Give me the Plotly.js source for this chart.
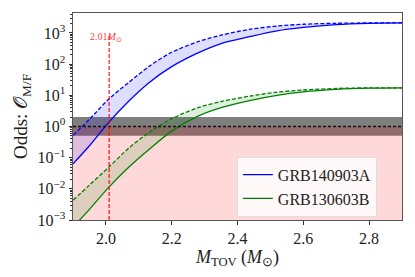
<!DOCTYPE html>
<html>
<head>
<meta charset="utf-8">
<script src="https://cdn.plot.ly/plotly-3.0.1.min.js"></script>
<style>html,body{margin:0;padding:0;background:#fff;}#chart{width:415px;height:277px;}</style>
</head>
<body>
<div id="chart"></div>
<script>
// M_TOV grid (solar masses)
const mtov = [1.90, 1.95, 2.01, 2.07, 2.13, 2.20, 2.28, 2.35, 2.44, 2.52, 2.60, 2.70, 2.80, 2.90];
// GRB140903A odds (upper / dashed and lower / solid)
const grbA_upper = [0.52, 1.7, 7.8, 26, 83, 240, 525, 851, 1318, 1660, 1905, 2042, 2090, 2090];
const grbA_lower = [0.063, 0.24, 1.41, 6.6, 25, 83, 229, 457, 776, 1175, 1510, 1860, 2040, 2090];
// GRB130603B odds (upper / dashed and lower / solid)
const grbB_upper = [0.0043, 0.0132, 0.051, 0.204, 0.63, 1.78, 4.0, 6.3, 9.5, 12.6, 14.8, 16.6, 17.3, 17.4];
const grbB_lower = [0.00059, 0.0022, 0.0115, 0.05, 0.18, 0.71, 2.14, 4.0, 6.9, 10.0, 12.9, 15.5, 17.0, 17.4];
const names = ["GRB140903A", "GRB130603B"];
const yTickVals = [1e-3, 1e-2, 1e-1, 1, 10, 100, 1000];
const yTickText = ["10<sup>−3</sup>", "10<sup>−2</sup>", "10<sup>−1</sup>", "10<sup>0</sup>", "10<sup>1</sup>", "10<sup>2</sup>", "10<sup>3</sup>"];
const xTickVals = [2.0, 2.2, 2.4, 2.6, 2.8];
const xTickText = ["2.0", "2.2", "2.4", "2.6", "2.8"];
const mRef = 2.01;
const oddsBand = [0.5, 2];
const oddsUnity = 1;
const oddsFloor = 1e-3;

const blue = "#0000ff", green = "#008000";
const font = "Liberation Serif, Times New Roman, serif";

function group(upper, lower, color, fillc, name) {
  return [
    {x: mtov, y: upper, mode: "lines", line: {color: color, width: 1.3, dash: "4px,2px", shape: "spline", smoothing: 0.8}, showlegend: false, hoverinfo: "skip"},
    {x: mtov, y: lower, mode: "lines", line: {color: color, width: 0, shape: "spline", smoothing: 0.8}, fill: "tonexty", fillcolor: fillc, showlegend: false, hoverinfo: "skip"},
    {x: mtov, y: lower, mode: "lines", line: {color: color, width: 1.3, shape: "spline", smoothing: 0.8}, name: name}
  ];
}

const data = [].concat(
  group(grbA_upper, grbA_lower, blue, "rgba(0,0,255,0.13)", names[0]),
  group(grbB_upper, grbB_lower, green, "rgba(0,128,0,0.13)", names[1])
);

const layout = {
  width: 415, height: 277,
  margin: {l: 73, r: 13, t: 13, b: 56.5},
  paper_bgcolor: "#fff", plot_bgcolor: "#fff",
  font: {family: font, size: 16, color: "#222"},
  showlegend: true,
  legend: {x: 0.498, y: 0.306, xanchor: "left", yanchor: "top", traceorder: "normal", bgcolor: "rgba(255,255,255,0.8)", bordercolor: "#dddddd", borderwidth: 1, font: {family: font, size: 16, color: "#222"}},
  xaxis: {
    range: [1.9, 2.9], tickvals: xTickVals, ticktext: xTickText,
    ticks: "outside", ticklen: 3.5, tickcolor: "#333", showgrid: false, zeroline: false,
    showline: true, linecolor: "#555", linewidth: 1, mirror: true,
    title: {text: "<i>M</i><sub>TOV</sub> (<i>M</i><sub>⊙</sub>)", font: {family: font, size: 18}, standoff: 2}
  },
  yaxis: {
    type: "log", range: [-3, 3.64], tickvals: yTickVals, ticktext: yTickText,
    ticks: "outside", ticklen: 3.5, tickcolor: "#333", showgrid: false, zeroline: false,
    showline: true, linecolor: "#555", linewidth: 1, mirror: true,
    minor: {ticks: "outside", ticklen: 2, tickcolor: "#333", dtick: "D1", showgrid: false},
    title: {text: "Odds: 𝒪<sub>M/F</sub>", font: {family: font, size: 19}, standoff: 4}
  },
  shapes: [
    {type: "rect", xref: "paper", x0: 0, x1: 1, yref: "y", y0: oddsBand[0], y1: oddsBand[1], fillcolor: "rgba(0,0,0,0.5)", line: {width: 0}, layer: "below"},
    {type: "rect", xref: "paper", x0: 0, x1: 1, yref: "y", y0: oddsFloor, y1: oddsUnity, fillcolor: "rgba(255,0,0,0.15)", line: {width: 0}, layer: "below"},
    {type: "line", xref: "paper", x0: 0, x1: 1, yref: "y", y0: oddsUnity, y1: oddsUnity, line: {color: "#111", width: 1.3, dash: "3px,2px"}},
    {type: "line", xref: "x", x0: mRef, x1: mRef, yref: "paper", y0: 0, y1: 0.893, line: {color: "rgba(255,0,0,0.75)", width: 1.5, dash: "4px,2px"}}
  ],
  annotations: [
    {xref: "x", x: mRef, xshift: -3, yref: "paper", y: 0.925, text: "2.01<i>M</i><sub>⊙</sub>", showarrow: false, font: {family: font, size: 10, color: "rgba(255,0,0,0.8)"}}
  ]
};

Plotly.newPlot("chart", data, layout, {displayModeBar: false, staticPlot: true});
</script>
</body>
</html>
